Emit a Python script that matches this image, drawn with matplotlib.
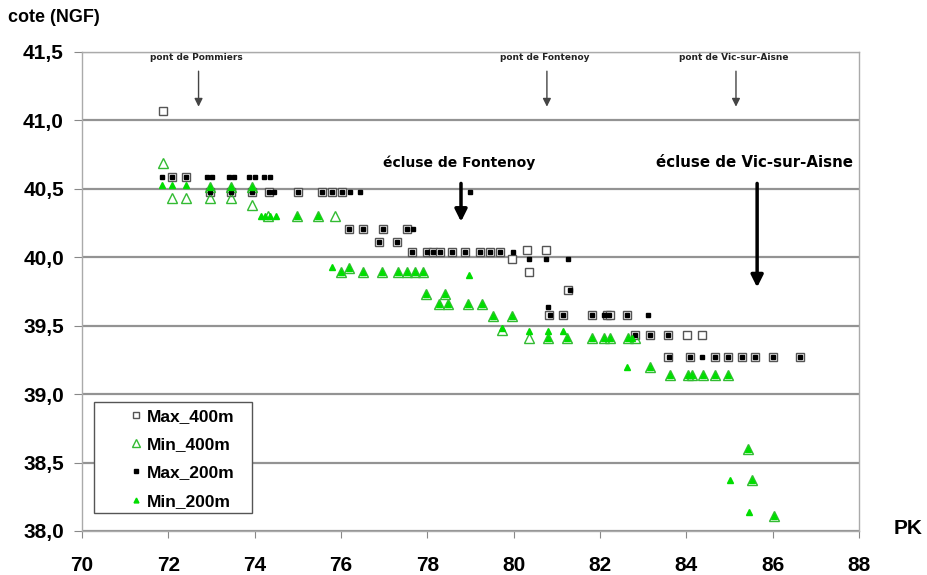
import numpy as np
import matplotlib
matplotlib.use('Agg')
import matplotlib.pyplot as plt
from matplotlib.ticker import FuncFormatter
from matplotlib.patches import Rectangle

plt.rcParams['font.family'] = ['Liberation Sans', 'DejaVu Sans']

# Max_400m (open squares)
max400_x = [71.88, 72.08, 72.41,
            72.97, 73.45, 73.94, 74.33, 75.0, 75.56, 75.79, 76.02,
            76.18, 76.51, 76.97, 77.53,
            76.88, 77.30,
            77.64, 78.0, 78.13, 78.3, 78.57, 78.87, 79.22, 79.45, 79.68,
            79.96, 80.31, 80.75, 80.35, 81.26,
            80.82, 81.14, 81.81, 82.16, 82.23, 82.62,
            82.81, 83.16, 83.57, 84.01, 84.36,
            83.57, 84.08, 84.66, 84.96, 85.3, 85.6, 86.01, 86.63]
max400_y = [41.07, 40.59, 40.59,
            40.48, 40.48, 40.48, 40.48, 40.48, 40.48, 40.48, 40.48,
            40.21, 40.21, 40.21, 40.21,
            40.11, 40.11,
            40.04, 40.04, 40.04, 40.04, 40.04, 40.04, 40.04, 40.04, 40.04,
            39.99, 40.05, 40.05, 39.89, 39.76,
            39.58, 39.58, 39.58, 39.58, 39.58, 39.58,
            39.43, 39.43, 39.43, 39.43, 39.43,
            39.27, 39.27, 39.27, 39.27, 39.27, 39.27, 39.27, 39.27]

# Min_400m (open triangles)
min400_x = [71.88, 72.08, 72.41,
            72.97, 73.45, 73.94, 72.97, 73.45, 73.94,
            74.3, 74.98, 75.47, 75.86,
            76.0, 76.18, 76.51, 76.95, 77.32, 77.53, 77.71, 77.90,
            77.97, 78.41, 78.27, 78.48, 78.94, 79.27,
            79.52, 79.96, 79.73,
            80.35, 80.79, 81.23, 81.81, 82.09, 82.23, 82.65, 82.81,
            83.16,
            83.62, 84.04, 84.13, 84.38, 84.66, 84.96,
            85.43, 85.52, 86.03]
min400_y = [40.69, 40.43, 40.43,
            40.51, 40.51, 40.51, 40.43, 40.43, 40.38,
            40.30, 40.30, 40.30, 40.30,
            39.89, 39.92, 39.89, 39.89, 39.89, 39.89, 39.89, 39.89,
            39.73, 39.73, 39.66, 39.66, 39.66, 39.66,
            39.57, 39.57, 39.47,
            39.41, 39.41, 39.41, 39.41, 39.41, 39.41, 39.41, 39.41,
            39.20,
            39.14, 39.14, 39.14, 39.14, 39.14, 39.14,
            38.60, 38.37, 38.11]

# Max_200m (black dots)
max200_x = [71.86, 72.08, 72.41,
            72.9, 73.02, 73.4, 73.52, 73.88, 74.0, 74.22, 74.36,
            72.97, 73.45, 73.94, 74.33, 74.45, 75.0, 75.56, 75.79, 76.02, 76.2, 76.44,
            78.99,
            76.18, 76.51, 76.97, 77.53, 77.67,
            76.88, 77.30,
            77.64, 78.0, 78.13, 78.3, 78.57, 78.87, 79.22, 79.45, 79.68, 79.98,
            80.35, 80.75, 81.26,
            81.3, 80.79,
            80.85, 81.14, 81.81, 82.1, 82.2, 82.62, 83.11,
            82.81, 83.16, 83.57,
            83.6, 84.08, 84.36, 84.66, 84.96, 85.3, 85.6, 86.01, 86.63]
max200_y = [40.59, 40.59, 40.59,
            40.59, 40.59, 40.59, 40.59, 40.59, 40.59, 40.59, 40.59,
            40.48, 40.48, 40.48, 40.48, 40.48, 40.48, 40.48, 40.48, 40.48, 40.48, 40.48,
            40.48,
            40.21, 40.21, 40.21, 40.21, 40.21,
            40.11, 40.11,
            40.04, 40.04, 40.04, 40.04, 40.04, 40.04, 40.04, 40.04, 40.04, 40.04,
            39.99, 39.99, 39.99,
            39.76, 39.64,
            39.58, 39.58, 39.58, 39.58, 39.58, 39.58, 39.58,
            39.43, 39.43, 39.43,
            39.27, 39.27, 39.27, 39.27, 39.27, 39.27, 39.27, 39.27, 39.27]

# Min_200m (small filled triangles)
min200_x = [71.86, 72.08, 72.41,
            72.97, 73.45, 73.94,
            74.15, 74.25, 74.35, 74.5, 74.98, 75.47,
            75.79, 76.0, 76.18, 76.51, 76.95, 77.32, 77.53, 77.71, 77.90, 78.96,
            77.97, 78.41, 78.27, 78.48, 78.94, 79.27,
            79.52, 79.96, 79.73,
            80.35, 80.79, 81.14,
            80.79, 81.23, 81.81, 82.09, 82.23, 82.65, 82.75,
            82.62, 83.16,
            83.62, 84.04, 84.13, 84.38, 84.66, 84.96,
            85.43, 85.01, 85.52, 85.45, 86.03]
min200_y = [40.53, 40.53, 40.53,
            40.51, 40.51, 40.51,
            40.30, 40.30, 40.30, 40.30, 40.30, 40.30,
            39.93, 39.89, 39.92, 39.89, 39.89, 39.89, 39.89, 39.89, 39.89, 39.87,
            39.73, 39.73, 39.66, 39.66, 39.66, 39.66,
            39.57, 39.57, 39.48,
            39.46, 39.46, 39.46,
            39.41, 39.41, 39.41, 39.41, 39.41, 39.41, 39.41,
            39.20, 39.20,
            39.14, 39.14, 39.14, 39.14, 39.14, 39.14,
            38.60, 38.37, 38.37, 38.14, 38.11]

ponts = ['pont de Pommiers', 'pont de Fontenoy', 'pont de Vic-sur-Aisne']
ponts_pk = [72.7, 80.77, 85.15]
ecluses = ['écluse de Fontenoy', 'écluse de Vic-sur-Aisne']
ecluses_pk = [78.78, 85.64]
ecluses_end = [40.24, 39.76]

fig = plt.figure(figsize=(9.27, 5.75), dpi=100)
ax = fig.add_axes([82/927, 1-531/575, 777/927, 479/575])

green = '#00dd00'
ax.plot(max400_x, max400_y, 's', ms=6, mfc='white', mec='#555555', mew=1, label='Max_400m', zorder=3)
ax.plot(min400_x, min400_y, '^', ms=7.5, mfc='none', mec='#33bb33', mew=1, label='Min_400m', zorder=4)
ax.plot(max200_x, max200_y, 's', ms=3, color='black', label='Max_200m', zorder=5)
ax.plot(min200_x, min200_y, '^', ms=5, color=green, mec=green, label='Min_200m', zorder=5)

ax.set_xlim(70, 88)
ax.set_ylim(38.0, 41.5)
ax.set_xticks(np.arange(70, 89, 2))
ax.set_yticks(np.arange(38.0, 41.51, 0.5))
ax.yaxis.set_major_formatter(FuncFormatter(lambda v, p: f'{v:.1f}'.replace('.', ',')))
ax.grid(axis='y', color='#939393', linewidth=1.6)
ax.set_axisbelow(True)
for s in ax.spines.values():
    s.set_color('#aaaaaa')
    s.set_linewidth(1)
ax.tick_params(axis='x', direction='out', length=5, color='#888888', labelsize=15, pad=13)
ax.tick_params(axis='y', direction='out', length=6, color='#888888', labelsize=15, pad=7)
for lab in ax.get_xticklabels() + ax.get_yticklabels():
    lab.set_fontweight('bold')

fig.text(8/927, 1-18/575, 'cote (NGF)', fontsize=13, fontweight='bold', va='center', ha='left')
fig.text(894/927, 1-528/575, 'PK', fontsize=15, fontweight='bold', va='center', ha='left')

for name, pk in zip(ponts, ponts_pk):
    ax.text(pk - 0.05, 41.46, name, fontsize=6.5, fontweight='bold', ha='center', va='center',
            family='DejaVu Sans', color='#222222')
    ax.annotate('', xy=(pk, 41.08), xytext=(pk, 41.38),
                arrowprops=dict(arrowstyle='-|>', color='#444444', lw=1, mutation_scale=12))

for name, pk, end, fs in zip(ecluses, ecluses_pk, ecluses_end, [10, 10.8]):
    ax.text(pk - 0.05, 40.69, name, fontsize=fs, fontweight='bold', ha='center', va='center',
            family='DejaVu Sans')
    ax.annotate('', xy=(pk, end), xytext=(pk, 40.56),
                arrowprops=dict(arrowstyle='-|>', color='black', lw=2.5, mutation_scale=18))

# legend frame drawn separately, entries placed inside
ax.add_patch(Rectangle((12/777, 18/479), 158/777, 111/479, transform=ax.transAxes,
                       facecolor='white', edgecolor='#555555', lw=1, zorder=6))
leg = ax.legend(loc='upper left', bbox_to_anchor=((127.3-82)/777, (531-409)/479), borderaxespad=0,
                borderpad=0, frameon=False, prop={'weight': 'bold', 'size': 12.5},
                handletextpad=0.13, labelspacing=0.75, handlelength=1.0)
leg.set_zorder(7)
leg.legend_handles[0].set_markersize(5)
leg.legend_handles[1].set_markersize(6)
leg.legend_handles[3].set_markersize(3.5)

fig.savefig('out.png', dpi=100)
